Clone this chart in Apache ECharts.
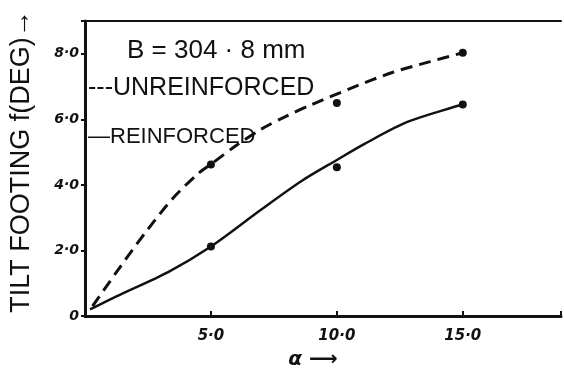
<!DOCTYPE html>
<html>
<head>
<meta charset="utf-8">
<script src="https://cdn.jsdelivr.net/npm/echarts@6/dist/echarts.min.js"></script>
<style>
  html, body { margin: 0; padding: 0; background: #fff; }
  #chart { width: 564px; height: 375px; }
</style>
</head>
<body>
<div id="chart"></div>
<script>
// measured points (alpha, tilt in degrees)
const unreinforcedPts = [[5, 4.62], [10, 6.5], [15, 8.03]];
const reinforcedPts = [[5, 2.12], [10, 4.54], [15, 6.45]];

// hand drawn fitted curves
const unreinforcedCurve = [
  [0.3, 0.3], [1.4, 1.5], [2.5, 2.65], [3.5, 3.6], [4.5, 4.35], [5, 4.63],
  [6, 5.2], [7, 5.7], [8, 6.1], [9, 6.45], [10.5, 6.93], [12.2, 7.43],
  [13.7, 7.76], [15, 8.03]
];
const reinforcedCurve = [
  [0.2, 0.2], [1.25, 0.6], [3.3, 1.34], [5, 2.12], [7, 3.25], [8.6, 4.12],
  [10, 4.76], [11.1, 5.25], [12.8, 5.92], [15, 6.45]
];

const xTicks = [0, 5, 10, 15];
const yTicks = [0, 2, 4, 6, 8];

const ink = '#111';
const handFont = 'DejaVu Sans';
const fmt = v => v === 0 ? '0' : v.toFixed(1).replace('.', '\u00b7');

const chart = echarts.init(document.getElementById('chart'), null, { renderer: 'canvas' });

chart.setOption({
  backgroundColor: '#fff',
  animation: false,
  grid: { left: 83, right: 0, top: 21, bottom: 53 },
  xAxis: [{
    type: 'value',
    min: 0,
    max: 18.9,
    interval: 5,
    name: '\u03b1 \u27f6',
    nameLocation: 'middle',
    nameGap: 34,
    nameTextStyle: { color: ink, fontSize: 20, fontWeight: 'bold', fontStyle: 'italic', fontFamily: handFont, padding: [0, 0, 0, -20] },
    axisLine: { lineStyle: { color: ink, width: 3 } },
    axisTick: { inside: true, length: 5, lineStyle: { color: ink, width: 2 } },
    axisLabel: {
      margin: 13,
      color: ink,
      fontSize: 15,
      fontWeight: 'bold',
      fontStyle: 'italic',
      fontFamily: handFont,
      formatter: v => (xTicks.indexOf(v) > 0 ? fmt(v) : '')
    },
    splitLine: { show: false }
  }, {
    type: 'value',
    position: 'top',
    min: 0,
    max: 18.9,
    axisLine: { lineStyle: { color: ink, width: 2 } },
    axisTick: { show: false },
    axisLabel: { show: false },
    splitLine: { show: false }
  }],
  yAxis: {
    type: 'value',
    min: 0,
    max: 9,
    interval: 2,
    name: 'TILT FOOTING f(DEG)\u2192',
    nameLocation: 'middle',
    nameRotate: 90,
    nameGap: 50,
    nameTextStyle: { color: ink, fontSize: 27, fontFamily: 'Liberation Sans', padding: [0, 0, 0, 14] },
    axisLine: { lineStyle: { color: ink, width: 3 } },
    axisTick: { length: 4, lineStyle: { color: ink, width: 2 } },
    axisLabel: {
      margin: 6,
      color: ink,
      fontSize: 14,
      fontWeight: 'bold',
      fontStyle: 'italic',
      fontFamily: handFont,
      formatter: v => (yTicks.indexOf(v) >= 0 ? fmt(v) : '')
    },
    splitLine: { show: false }
  },
  graphic: [
    { type: 'text', left: 127, top: 38, style: { text: 'B = 304 \u00b7 8 mm', fill: ink, font: '26px "Liberation Sans"' } },
    { type: 'text', left: 88, top: 76, style: { text: '---UNREINFORCED', fill: ink, font: '25px "Liberation Sans"' } },
    { type: 'text', left: 88, top: 126, style: { text: '\u2014REINFORCED', fill: ink, font: '22px "Liberation Sans"' } }
  ],
  series: [
    {
      name: 'UNREINFORCED',
      type: 'line',
      data: unreinforcedCurve,
      smooth: 0.3,
      showSymbol: false,
      lineStyle: { color: ink, width: 3, type: [12, 7] }
    },
    {
      name: 'REINFORCED',
      type: 'line',
      data: reinforcedCurve,
      smooth: 0.3,
      showSymbol: false,
      lineStyle: { color: ink, width: 2.5 }
    },
    {
      type: 'scatter',
      data: unreinforcedPts,
      symbolSize: 8,
      itemStyle: { color: ink, opacity: 1 }
    },
    {
      type: 'scatter',
      data: reinforcedPts,
      symbolSize: 8,
      itemStyle: { color: ink, opacity: 1 }
    }
  ]
});
</script>
</body>
</html>
